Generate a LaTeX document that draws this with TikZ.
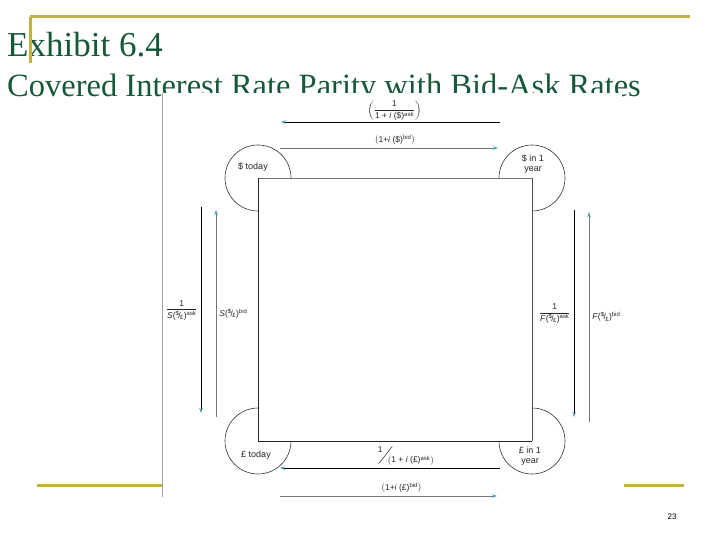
\documentclass[tikz,border=0pt]{standalone}
\usepackage{fontspec}
\setmainfont{Liberation Serif}
\setsansfont{Liberation Sans}
\usepackage{amsmath}
\usetikzlibrary{arrows.meta, positioning, calc}
\definecolor{SlideGold}{RGB}{196, 176, 72}
\definecolor{SlideGreen}{RGB}{22, 88, 58}
\definecolor{TipTeal}{RGB}{72, 160, 190}
\definecolor{FlowGrey}{RGB}{120, 120, 120}
\newcommand{\usdgbp}{(\textsuperscript{\$}\kern-0.12em/\kern-0.08em\textsubscript{£})}

\begin{document}
\begin{tikzpicture}[
    x=1pt, y=-1pt,
    goldline/.style={draw=SlideGold, line width=3pt},
    heading/.style={text=SlideGreen, anchor=base west, inner sep=0pt},
    place/.style={circle, draw=black!80, line width=0.6pt, minimum size=66pt, inner sep=0pt},
    placetext/.style={font=\sffamily\fontsize{9}{10.5}\selectfont, align=center, text=black!85, inner sep=1pt},
    rate/.style={font=\sffamily\fontsize{8.5}{9.5}\selectfont, text=black!85, inner sep=1pt},
    askflow/.style={-{Stealth[length=5pt, width=3.5pt, color=TipTeal]}, draw=black, line width=0.7pt},
    bidflow/.style={-{Stealth[length=5pt, width=3.5pt, color=TipTeal]}, draw=FlowGrey, line width=0.7pt}
]
\useasboundingbox (0,0) rectangle (720,540);

\node[heading, font=\fontsize{35}{40}\selectfont] (title) at (7,57) {Exhibit 6.4};
\node[heading, font=\fontsize{32.5}{36}\selectfont] (subtitle) at (7,97)
{Covered Interest Rate Parity with Bid-Ask Rates};

\draw[goldline] (30,17) -- (690,17);
\draw[goldline] (30,17) -- (30,63);
\draw[goldline] (37,485) -- (162,485);
\draw[goldline] (624,485) -- (684,485);

\fill[white] (162.5,93) rectangle (622,497);
\draw[FlowGrey!70, line width=0.6pt] (162.5,93) -- (162.5,497);

\node[place] (usd0) at (258,178) {};
\node[place] (usd1) at (532,178) {};
\node[place] (gbp0) at (258,441) {};
\node[place] (gbp1) at (532,441) {};

\fill[white] (usd0.center) rectangle (gbp1.center);
\draw[black!55, line width=0.6pt] (usd0.center) -- (usd1.center);
\draw[black!70, line width=0.6pt] (usd1.center) -- (gbp1.center);
\draw[black!85, line width=0.7pt] (usd0.center) -- (gbp0.center) -- (gbp1.center);

\node[placetext] (usd0text) at (253,167) {\$ today};
\node[placetext] (usd1text) at (533,164) {\$ in 1\\year};
\node[placetext] (gbp0text) at (256,455) {£ today};
\node[placetext] (gbp1text) at (530,456) {£ in 1\\year};

\coordinate (usdaskL) at (281,122);
\coordinate (usdaskR) at (500,122);
\coordinate (usdbidL) at (280,148);
\coordinate (usdbidR) at (498,148);
\coordinate (gbpaskL) at (280,468);
\coordinate (gbpaskR) at (500,468);
\coordinate (gbpbidL) at (280,496);
\coordinate (gbpbidR) at (497,496);

\coordinate (spotaskT) at (201,207);
\coordinate (spotaskB) at (201,413);
\coordinate (spotbidT) at (216,210);
\coordinate (spotbidB) at (216,417);
\coordinate (fwdaskT) at (574,210);
\coordinate (fwdaskB) at (574,417);
\coordinate (fwdbidT) at (589,212);
\coordinate (fwdbidB) at (589,422);

\draw[askflow] (usdaskR) -- node[rate, above=0pt, xshift=4pt]
{$\left(\dfrac{\text{1}}{\text{1 + \textit{i} (\$)\textsuperscript{ask}}}\right)$} (usdaskL);
\draw[bidflow] (usdbidL) -- node[rate, above=1.5pt, xshift=6pt]
{$\bigl(\text{1+\textit{i} (\$)\textsuperscript{bid}}\bigr)$} (usdbidR);

\draw[askflow] (gbpaskR) -- node[rate, above=1pt, xshift=16pt]
{\raisebox{10pt}{1}\kern-4pt\raisebox{-1pt}{\rotatebox{52}{\rule{22pt}{0.5pt}}}\kern-5pt$\left(\text{1 + \textit{i} (£)\textsuperscript{ask}}\right)$} (gbpaskL);
\draw[bidflow] (gbpbidL) -- node[rate, above=1.5pt, xshift=13pt]
{$\bigl(\text{1+\textit{i} (£)\textsuperscript{bid}}\bigr)$} (gbpbidR);

\draw[askflow] (spotaskT) -- node[rate, left=2pt]
{$\dfrac{\text{1}}{\text{\textit{S}\usdgbp\textsuperscript{ask}}}$} (spotaskB);
\draw[bidflow] (spotbidB) -- node[rate, right=2pt]
{\textit{S}\usdgbp\textsuperscript{bid}} (spotbidT);

\draw[askflow] (fwdaskT) -- node[rate, left=2pt]
{$\dfrac{\text{1}}{\text{\textit{F}\usdgbp\textsuperscript{ask}}}$} (fwdaskB);
\draw[bidflow] (fwdbidB) -- node[rate, right=2pt]
{\textit{F}\usdgbp\textsuperscript{bid}} (fwdbidT);

\node[font=\sffamily\fontsize{8}{9}\selectfont] (pagenum) at (672,517) {23};

\end{tikzpicture}
\end{document}
